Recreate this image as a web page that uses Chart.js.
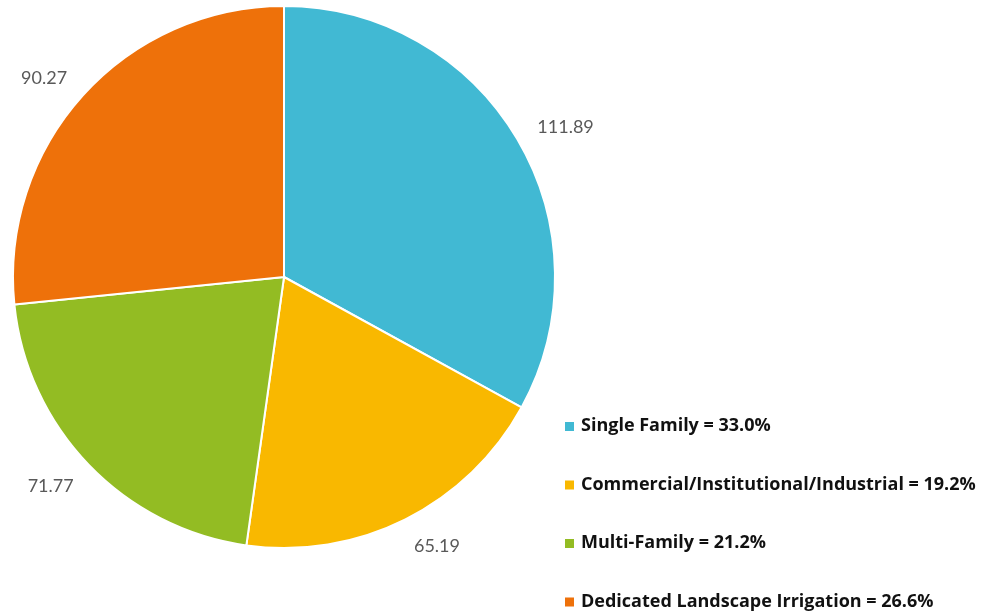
<!DOCTYPE html>
<html>
<head>
<meta charset="utf-8">
<script src="https://cdn.jsdelivr.net/npm/chart.js@4"></script>
<style>
  html, body { margin: 0; padding: 0; background: #fff; }
  #wrap { width: 981px; height: 616px; position: relative; }
</style>
</head>
<body>
<div id="wrap"><canvas id="myChart" width="981" height="616"></canvas></div>
<script>
var categories = ['Single Family', 'Commercial/Institutional/Industrial', 'Multi-Family', 'Dedicated Landscape Irrigation'];
var values = [111.89, 65.19, 71.77, 90.27];
var percentLabels = ['33.0%', '19.2%', '21.2%', '26.6%'];
var colors = ['#41B9D3', '#F9B800', '#93BC23', '#EE710A'];

// value labels just outside each slice
var outsideLabels = {
  id: 'outsideLabels',
  afterDatasetsDraw: function(chart) {
    var ctx = chart.ctx;
    var meta = chart.getDatasetMeta(0);
    ctx.save();
    ctx.font = '18px Lato';
    ctx.fillStyle = '#595959';
    ctx.textBaseline = 'middle';
    meta.data.forEach(function(arc, i) {
      var p = arc.getProps(['x', 'y', 'startAngle', 'endAngle', 'outerRadius'], true);
      var mid = (p.startAngle + p.endAngle) / 2;
      var r = p.outerRadius + 28;
      var x = p.x + Math.cos(mid) * r;
      var y = p.y + Math.sin(mid) * r;
      var right = Math.cos(mid) >= 0;
      ctx.textAlign = right ? 'left' : 'right';
      ctx.fillText(values[i].toFixed(2), x + (right ? -4 : 5), y + 2);
    });
    ctx.restore();
  }
};

// legend in lower right corner
var cornerLegend = {
  id: 'cornerLegend',
  afterDraw: function(chart) {
    var ctx = chart.ctx;
    ctx.save();
    ctx.font = 'bold 18px "Open Sans"';
    ctx.textBaseline = 'middle';
    ctx.textAlign = 'left';
    categories.forEach(function(name, i) {
      var y = 426 + i * 58.5;
      ctx.fillStyle = colors[i];
      ctx.fillRect(565, y - 4, 9, 9);
      ctx.fillStyle = '#111';
      ctx.fillText(name + ' = ' + percentLabels[i], 581, y);
    });
    ctx.restore();
  }
};

var ctx = document.getElementById('myChart').getContext('2d');

var myChart = new Chart(ctx, {
  type: 'pie',
  data: {
    labels: categories,
    datasets: [{
      data: values,
      backgroundColor: colors,
      borderColor: '#fff',
      borderWidth: 2
    }]
  },
  options: {
    responsive: false,
    animation: false,
    layout: { padding: { top: 5, bottom: 67, left: 12, right: 425 } },
    plugins: {
      legend: { display: false },
      tooltip: { enabled: false }
    }
  },
  plugins: [outsideLabels, cornerLegend]
});
</script>
</body>
</html>
